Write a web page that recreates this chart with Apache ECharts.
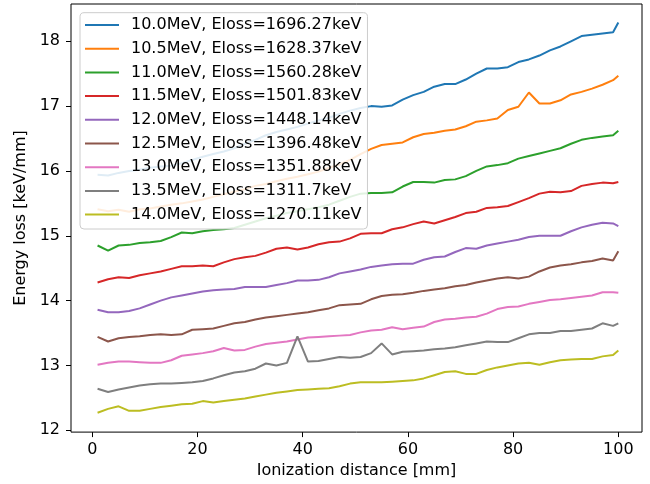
<!DOCTYPE html>
<html>
<head>
<meta charset="utf-8">
<title>Energy loss vs ionization distance</title>
<script src="https://cdn.jsdelivr.net/npm/echarts@6.0.0/dist/echarts.min.js"></script>
<style>
  html, body { margin: 0; padding: 0; background: #fff; }
  #chart { width: 650px; height: 484px; }
</style>
</head>
<body>
<div id="chart"></div>
<script>
// ionization distance [mm]
var dist = [1,3,5,7,9,11,13,15,17,19,21,23,25,27,29,31,33,35,37,39,41,43,45,47,49,
            51,53,55,57,59,61,63,65,67,69,71,73,75,77,79,81,83,85,87,89,91,93,95,97,99,100];

var names = ['10.0MeV, Eloss=1696.27keV', '10.5MeV, Eloss=1628.37keV', '11.0MeV, Eloss=1560.28keV',
             '11.5MeV, Eloss=1501.83keV', '12.0MeV, Eloss=1448.14keV', '12.5MeV, Eloss=1396.48keV',
             '13.0MeV, Eloss=1351.88keV', '13.5MeV, Eloss=1311.7keV', '14.0MeV, Eloss=1270.11keV'];

var e100 = [15.94,15.93,15.97,16.00,16.02,16.05,16.07,16.08,16.12,16.17,
            16.22,16.26,16.30,16.35,16.42,16.48,16.55,16.60,16.64,16.68,
            16.73,16.78,16.82,16.88,16.93,16.97,17.00,16.99,17.01,17.10,
            17.17,17.22,17.30,17.34,17.34,17.41,17.50,17.58,17.58,17.60,
            17.68,17.72,17.78,17.86,17.92,18.00,18.08,18.10,18.12,18.14,18.29];
var e105 = [15.41,15.38,15.40,15.37,15.41,15.42,15.45,15.48,15.50,15.53,
            15.56,15.60,15.64,15.68,15.72,15.77,15.80,15.84,15.88,15.91,
            15.95,15.99,16.05,16.10,16.17,16.26,16.34,16.40,16.42,16.44,
            16.52,16.57,16.59,16.62,16.64,16.69,16.76,16.78,16.81,16.94,
            16.99,17.21,17.04,17.04,17.09,17.18,17.22,17.27,17.33,17.40,17.47];
var e110 = [14.85,14.77,14.85,14.86,14.89,14.90,14.92,14.98,15.05,15.04,
            15.07,15.09,15.10,15.12,15.17,15.22,15.27,15.31,15.35,15.38,
            15.41,15.44,15.48,15.54,15.60,15.65,15.66,15.66,15.67,15.76,
            15.83,15.83,15.82,15.86,15.87,15.92,16.00,16.07,16.09,16.12,
            16.19,16.23,16.27,16.31,16.35,16.42,16.48,16.51,16.53,16.55,16.62];
var e115 = [14.28,14.33,14.36,14.35,14.39,14.42,14.45,14.49,14.53,14.53,
            14.54,14.53,14.59,14.64,14.67,14.69,14.74,14.80,14.82,14.79,
            14.82,14.87,14.90,14.91,14.96,15.03,15.04,15.04,15.10,15.13,
            15.18,15.22,15.19,15.24,15.29,15.35,15.37,15.43,15.44,15.46,
            15.52,15.58,15.65,15.68,15.67,15.69,15.77,15.80,15.82,15.81,15.83];
var e120 = [13.86,13.82,13.82,13.84,13.88,13.94,14.00,14.05,14.08,14.11,
            14.14,14.16,14.17,14.18,14.21,14.21,14.21,14.24,14.27,14.31,
            14.31,14.32,14.36,14.42,14.45,14.48,14.52,14.54,14.56,14.57,
            14.57,14.63,14.67,14.68,14.75,14.81,14.80,14.85,14.88,14.91,
            14.94,14.98,15.00,15.00,15.00,15.07,15.13,15.17,15.20,15.19,15.15];
var e125 = [13.44,13.37,13.42,13.44,13.45,13.47,13.48,13.47,13.48,13.55,
            13.56,13.57,13.61,13.65,13.67,13.71,13.74,13.76,13.78,13.80,
            13.82,13.85,13.88,13.93,13.94,13.95,14.02,14.07,14.09,14.10,
            14.12,14.15,14.17,14.19,14.22,14.24,14.28,14.31,14.34,14.36,
            14.34,14.37,14.45,14.51,14.54,14.56,14.59,14.61,14.65,14.62,14.76];
var e130 = [13.01,13.04,13.06,13.06,13.05,13.04,13.04,13.08,13.15,13.17,
            13.19,13.22,13.27,13.23,13.24,13.29,13.33,13.35,13.37,13.40,
            13.43,13.44,13.45,13.46,13.47,13.51,13.54,13.55,13.59,13.56,
            13.58,13.60,13.67,13.71,13.72,13.74,13.75,13.80,13.87,13.90,
            13.91,13.95,13.98,14.01,14.02,14.04,14.06,14.08,14.13,14.13,14.12];
var e135 = [12.64,12.59,12.63,12.66,12.69,12.71,12.72,12.72,12.73,12.74,
            12.76,12.80,12.85,12.89,12.91,12.95,13.03,13.00,13.04,13.45,
            13.06,13.07,13.10,13.13,13.12,13.13,13.19,13.34,13.17,13.21,
            13.22,13.23,13.25,13.26,13.28,13.31,13.34,13.37,13.36,13.36,
            13.42,13.48,13.50,13.50,13.53,13.53,13.55,13.57,13.65,13.61,13.65];
var e140 = [12.27,12.33,12.37,12.30,12.30,12.33,12.36,12.38,12.40,12.41,
            12.45,12.43,12.45,12.47,12.49,12.52,12.55,12.58,12.60,12.62,
            12.63,12.64,12.65,12.68,12.72,12.74,12.74,12.74,12.75,12.76,
            12.77,12.80,12.85,12.90,12.91,12.87,12.87,12.93,12.97,13.00,
            13.03,13.04,13.01,13.05,13.08,13.09,13.10,13.10,13.14,13.16,13.23];

var xTicks = [0, 20, 40, 60, 80, 100];
var yTicks = [12, 13, 14, 15, 16, 17, 18];

var colors = ['#1f77b4','#ff7f0e','#2ca02c','#d62728','#9467bd','#8c564b','#e377c2','#7f7f7f','#bcbd22'];
var allVals = [e100, e105, e110, e115, e120, e125, e130, e135, e140];

var font = 'DejaVu Sans';
var series = [];
for (var k = 0; k < allVals.length; k++) {
  var vals = allVals[k];
  series.push({
    name: names[k],
    type: 'line',
    symbol: 'none',
    z: 2,
    lineStyle: { width: 2, color: colors[k] },
    itemStyle: { color: colors[k] },
    data: dist.map(function (d, i) { return [d, vals[i]]; })
  });
}

var chart = echarts.init(document.getElementById('chart'));
chart.setOption({
  animation: false,
  grid: { left: 71, right: 8, top: 4, bottom: 51.5, show: true, borderColor: '#000', borderWidth: 1, backgroundColor: 'transparent' },
  legend: {
    orient: 'vertical',
    left: 80, top: 12.7,
    z: 20, zlevel: 1,
    icon: 'rect',
    itemWidth: 34, itemHeight: 2,
    itemGap: 7.7,
    padding: [4.3, 6, 6.4, 5],
    backgroundColor: 'rgba(255,255,255,0.86)',
    borderColor: '#cccccc', borderWidth: 1, borderRadius: 4,
    textStyle: { fontFamily: font, fontSize: 16, color: '#000', lineHeight: 16, padding: [0, 0, 0, 7] },
    data: names
  },
  xAxis: {
    type: 'value', min: -4.05, max: 104.5,
    name: 'Ionization distance [mm]', nameLocation: 'middle', nameGap: 28,
    nameTextStyle: { fontFamily: font, fontSize: 16, color: '#000' },
    axisLine: { show: false, onZero: false },
    axisTick: { show: true, length: 5, lineStyle: { color: '#000' }, customValues: xTicks },
    axisLabel: { fontFamily: font, fontSize: 16, color: '#000', margin: 10, customValues: xTicks },
    splitLine: { show: false }
  },
  yAxis: {
    type: 'value', min: 11.972, max: 18.575,
    name: 'Energy loss [keV/mm]', nameLocation: 'middle', nameRotate: 90, nameGap: 33,
    nameTextStyle: { fontFamily: font, fontSize: 16, color: '#000' },
    axisLine: { show: false, onZero: false },
    axisTick: { show: true, length: 5, lineStyle: { color: '#000' }, customValues: yTicks },
    axisLabel: { fontFamily: font, fontSize: 16, color: '#000', margin: 11, customValues: yTicks },
    splitLine: { show: false }
  },
  series: series
});
</script>
</body>
</html>
